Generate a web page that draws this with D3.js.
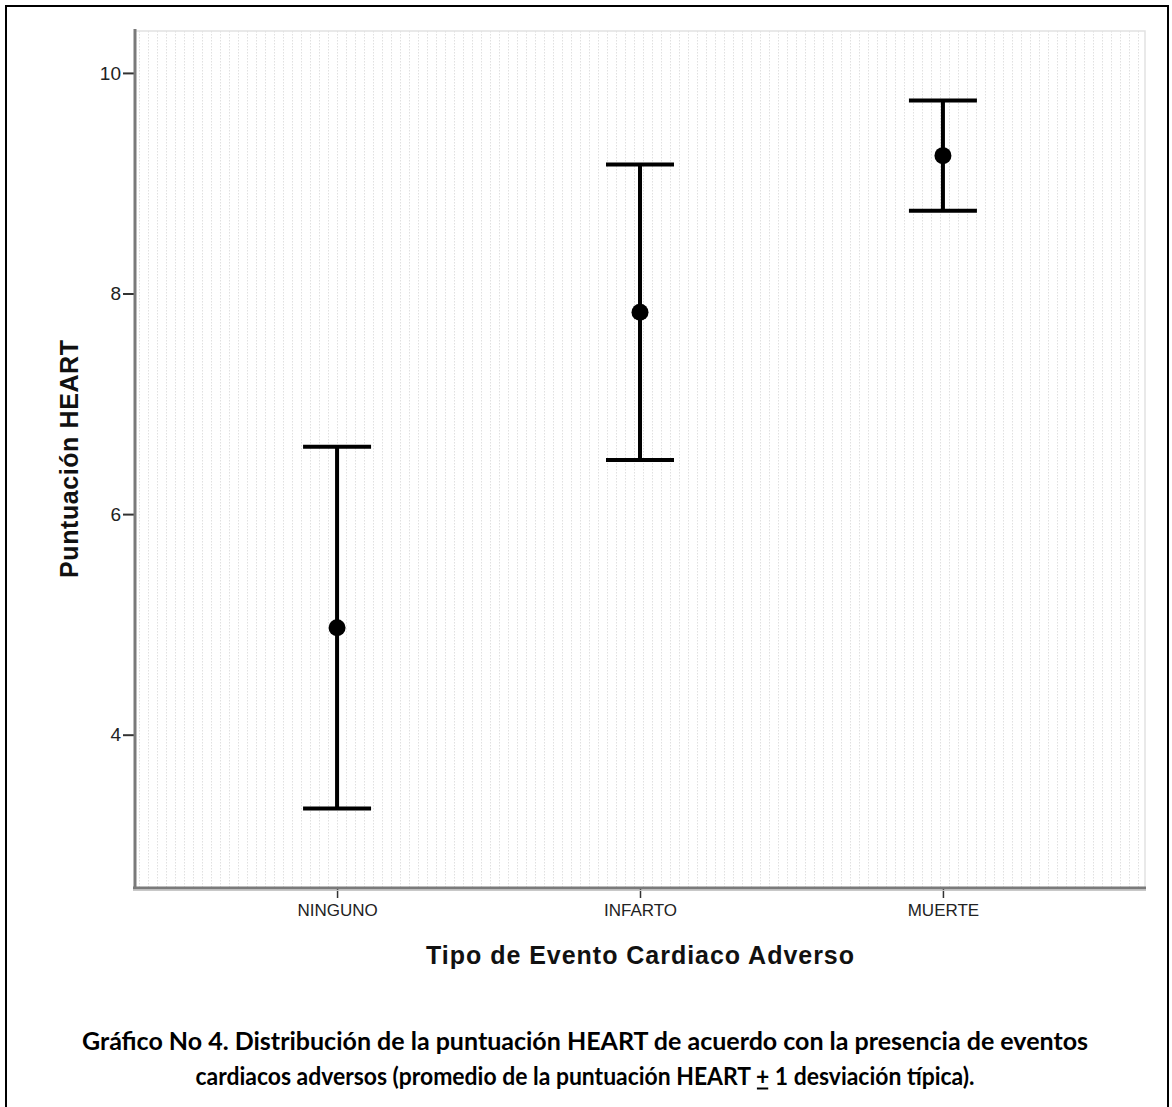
<!DOCTYPE html>
<html>
<head>
<meta charset="utf-8">
<script src="https://cdn.jsdelivr.net/npm/d3@7"></script>
<style>
  html, body { margin: 0; padding: 0; background: #fff; }
  svg { display: block; }
</style>
</head>
<body>
<svg id="chart" width="1172" height="1107"></svg>
<script>
// ---- data ----
const categories = ["NINGUNO", "INFARTO", "MUERTE"];
const means = [4.97, 7.83, 9.25];
const lowerSD = [3.33, 6.49, 8.75];
const upperSD = [6.61, 9.17, 9.75];
const yTickValues = [4, 6, 8, 10];
const xTitle = "Tipo de Evento Cardiaco Adverso";
const yTitle = "Puntuación HEART";
const captionLine1 = "Gráfico No 4. Distribución de la puntuación HEART de acuerdo con la presencia de eventos";
const captionLine2 = "cardiacos adversos (promedio de la puntuación HEART + 1 desviación típica).";

// ---- layout ----
const svg = d3.select("#chart");
const plot = { left: 135, right: 1145, top: 31, bottom: 888 };

const x = d3.scalePoint().domain(categories).range([plot.left, plot.right]).padding(0.667);
const y = d3.scaleLinear().domain([2.61, 10.38]).range([plot.bottom, plot.top]);

// outer frame
svg.append("rect").attr("x", 6).attr("y", 6).attr("width", 1162).attr("height", 1120)
  .attr("fill", "none").attr("stroke", "#000").attr("stroke-width", 2);

// background pattern
const defs = svg.append("defs");
const pat = defs.append("pattern").attr("id", "dots").attr("patternUnits", "userSpaceOnUse")
  .attr("x", plot.left + 4).attr("y", plot.top).attr("width", 9).attr("height", 3);
pat.append("rect").attr("x", 0).attr("y", 0).attr("width", 1).attr("height", 1.5).attr("fill", "#e0e0e0");

svg.append("rect").attr("x", plot.left).attr("y", plot.top)
  .attr("width", plot.right - plot.left).attr("height", plot.bottom - plot.top)
  .attr("fill", "url(#dots)").attr("stroke", "#e2e2e2").attr("stroke-width", 1.5);

// y axis
const yAxis = d3.axisLeft(y).tickValues(yTickValues).tickSize(11).tickPadding(2).tickFormat(d3.format("d"));
const gy = svg.append("g").attr("transform", `translate(${plot.left - 1},0)`).call(yAxis);
gy.select(".domain").remove();
gy.selectAll(".tick line").attr("stroke", "#333").attr("stroke-width", 2);
gy.selectAll(".tick text").attr("font-family", "Liberation Sans, Arial, sans-serif")
  .attr("font-size", 19).attr("fill", "#222");
svg.append("line").attr("x1", plot.left).attr("x2", plot.left).attr("y1", plot.top - 2).attr("y2", plot.bottom + 1)
  .attr("stroke", "#7a7a7a").attr("stroke-width", 3);

// x axis
const xAxis = d3.axisBottom(x).tickSize(9).tickPadding(6);
const gx = svg.append("g").attr("transform", `translate(0,${plot.bottom + 1})`).call(xAxis);
gx.select(".domain").remove();
gx.selectAll(".tick line").attr("stroke", "#333").attr("stroke-width", 1.5);
gx.selectAll(".tick text").attr("font-family", "Liberation Sans, Arial, sans-serif")
  .attr("font-size", 17).attr("fill", "#222");
svg.append("line").attr("x1", plot.left - 2).attr("x2", plot.right + 1).attr("y1", plot.bottom).attr("y2", plot.bottom)
  .attr("stroke", "#7a7a7a").attr("stroke-width", 3);
svg.append("line").attr("x1", plot.left - 2).attr("x2", plot.right + 1).attr("y1", plot.bottom + 2.5).attr("y2", plot.bottom + 2.5)
  .attr("stroke", "#c8c8c8").attr("stroke-width", 1.2);

// error bars
const data = categories.map((c, i) => ({ c, m: means[i], lo: lowerSD[i], hi: upperSD[i] }));
const capHalf = 34;
const g = svg.append("g");
g.selectAll("line.v").data(data).join("line").attr("class", "v")
  .attr("x1", d => x(d.c)).attr("x2", d => x(d.c))
  .attr("y1", d => y(d.hi)).attr("y2", d => y(d.lo))
  .attr("stroke", "#000").attr("stroke-width", 4);
g.selectAll("line.top").data(data).join("line").attr("class", "top")
  .attr("x1", d => x(d.c) - capHalf).attr("x2", d => x(d.c) + capHalf)
  .attr("y1", d => y(d.hi)).attr("y2", d => y(d.hi))
  .attr("stroke", "#000").attr("stroke-width", 4);
g.selectAll("line.bot").data(data).join("line").attr("class", "bot")
  .attr("x1", d => x(d.c) - capHalf).attr("x2", d => x(d.c) + capHalf)
  .attr("y1", d => y(d.lo)).attr("y2", d => y(d.lo))
  .attr("stroke", "#000").attr("stroke-width", 4);
g.selectAll("circle").data(data).join("circle")
  .attr("cx", d => x(d.c)).attr("cy", d => y(d.m)).attr("r", 8.5).attr("fill", "#000");

// axis titles
svg.append("text").attr("x", (plot.left + plot.right) / 2).attr("y", 964)
  .attr("text-anchor", "middle").attr("font-family", "Liberation Sans, Arial, sans-serif")
  .attr("font-weight", "bold").attr("font-size", 25).attr("fill", "#111")
  .attr("textLength", 428).attr("lengthAdjust", "spacing").text(xTitle);

svg.append("text").attr("transform", "translate(78,459) rotate(-90)")
  .attr("text-anchor", "middle").attr("font-family", "Liberation Sans, Arial, sans-serif")
  .attr("font-weight", "bold").attr("font-size", 25).attr("fill", "#111")
  .attr("textLength", 238).attr("lengthAdjust", "spacing").text(yTitle);

// caption
const capFont = "Lato, 'Open Sans', sans-serif";
svg.append("text").attr("x", 585).attr("y", 1050).attr("text-anchor", "middle")
  .attr("font-family", capFont).attr("font-weight", "bold").attr("font-size", 24).attr("fill", "#000")
  .attr("textLength", 1006).attr("lengthAdjust", "spacingAndGlyphs").text(captionLine1);
const c2 = svg.append("text").attr("x", 585).attr("y", 1085).attr("text-anchor", "middle")
  .attr("font-family", capFont).attr("font-weight", "bold").attr("font-size", 24).attr("fill", "#000")
  .attr("textLength", 779).attr("lengthAdjust", "spacingAndGlyphs").text(captionLine2);

// underline under the "+" sign
const plusIdx = captionLine2.indexOf("+");
try {
  const ext = c2.node().getExtentOfChar(plusIdx);
  svg.append("line").attr("x1", ext.x + 1).attr("x2", ext.x + ext.width - 1)
    .attr("y1", 1088.5).attr("y2", 1088.5).attr("stroke", "#000").attr("stroke-width", 2);
} catch (e) {}
</script>
</body>
</html>
